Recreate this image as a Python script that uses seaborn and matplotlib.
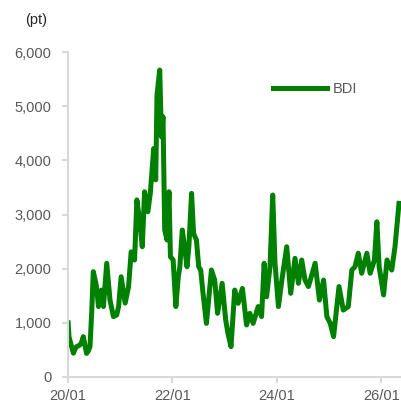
import pandas as pd
import seaborn as sns
import matplotlib.pyplot as plt
import matplotlib.dates as mdates
from matplotlib.ticker import FuncFormatter

# BDI readings (pt)
fechas = ['2020-01-02', '2020-01-08', '2020-01-20', '2020-02-08', '2020-02-20', '2020-03-01', '2020-03-24',
          '2020-04-05', '2020-04-17', '2020-05-10', '2020-05-22', '2020-06-03', '2020-06-15', '2020-06-26',
          '2020-07-19', '2020-08-01', '2020-08-23', '2020-09-05', '2020-09-28', '2020-10-21', '2020-11-14',
          '2020-12-07', '2020-12-20', '2021-01-07', '2021-02-04', '2021-02-28', '2021-03-18', '2021-04-11',
          '2021-04-27', '2021-05-16', '2021-06-04', '2021-06-20', '2021-07-13', '2021-07-30', '2021-08-23',
          '2021-09-06', '2021-09-15', '2021-10-04', '2021-10-16', '2021-10-27', '2021-11-08', '2021-11-24',
          '2021-12-08', '2021-12-18', '2022-01-06', '2022-01-25', '2022-02-11', '2022-02-22', '2022-03-11',
          '2022-03-27', '2022-04-13', '2022-04-26', '2022-05-15', '2022-05-29', '2022-06-18', '2022-07-04',
          '2022-07-18', '2022-08-05', '2022-08-27', '2022-10-01', '2022-10-24', '2022-11-13', '2022-12-15',
          '2023-01-09', '2023-01-25', '2023-02-15', '2023-03-13', '2023-04-06', '2023-05-06', '2023-06-04',
          '2023-06-27', '2023-07-20', '2023-08-24', '2023-09-17', '2023-10-05', '2023-10-22', '2023-11-15',
          '2023-12-04', '2023-12-20', '2024-01-13', '2024-02-06', '2024-03-11', '2024-04-08', '2024-05-08',
          '2024-06-01', '2024-06-24', '2024-07-17', '2024-08-10', '2024-09-26', '2024-10-26', '2024-11-24',
          '2024-12-17', '2025-01-10', '2025-02-02', '2025-03-12', '2025-04-11', '2025-05-16', '2025-06-10',
          '2025-07-02', '2025-07-25', '2025-08-18', '2025-09-23', '2025-10-16', '2025-11-15', '2025-12-02',
          '2025-12-18', '2026-01-18', '2026-02-11', '2026-03-16', '2026-04-08', '2026-05-06']
bdi = [1000, 745, 620, 440, 520, 560, 590,
       640, 745, 435, 480, 560, 1200, 1945,
       1670, 1300, 1605, 1300, 2100, 1420, 1115,
       1145, 1300, 1850, 1365, 1670, 2310, 2160,
       3270, 2900, 2405, 3420, 3050, 3390, 4220,
       3640, 5205, 5667, 4435, 4805, 2714, 2530,
       3420, 2220, 2160, 1300, 1850, 2035, 2714,
       2405, 2035, 2405, 3390, 2650, 2530, 2035,
       1975, 1500, 990, 1975, 1790, 1175, 1730,
       1050, 800, 560, 1605, 1360, 1635, 960,
       1175, 990, 1300, 1115, 2100, 1480, 2035,
       3360, 2100, 1300, 1790, 2405, 1545, 2190,
       1730, 2160, 1790, 1670, 2100, 1420, 1790,
       1115, 990, 745, 1670, 1235, 1300, 1975,
       2035, 2285, 1915, 2285, 1915, 2160, 2866,
       2035, 1515, 2160, 1975, 2405, 3205]

df = pd.DataFrame({'fecha': pd.to_datetime(fechas), 'BDI': bdi})

gris = '#d9d9d9'
texto = '#595959'
plt.rcParams['font.family'] = ['Liberation Sans', 'DejaVu Sans']

fig = plt.figure(figsize=(4.01, 4.08), dpi=100)
ax = fig.add_axes([68 / 401, 31 / 408, 333 / 401, 325 / 408])

sns.lineplot(data=df, x='fecha', y='BDI', color='#008000', linewidth=3.6, label='BDI', ax=ax)

ax.set_ylim(0, 6000)
ax.set_yticks(range(0, 6001, 1000))
ax.yaxis.set_major_formatter(FuncFormatter(lambda v, p: f'{int(v):,}'))
ax.set_xlim(pd.Timestamp('2020-01-01'), pd.Timestamp('2026-05-20'))
ax.set_xticks(pd.to_datetime(['2020-01-01', '2022-01-01', '2024-01-01', '2026-01-01']))
ax.xaxis.set_major_formatter(mdates.DateFormatter('%y/%m'))
ax.set_xlabel('')
ax.set_ylabel('')

for s in ['top', 'right']:
    ax.spines[s].set_visible(False)
for s in ['left', 'bottom']:
    ax.spines[s].set_color(gris)
    ax.spines[s].set_linewidth(1.5)
ax.tick_params(axis='both', colors=gris, labelcolor=texto, labelsize=10.5, length=4, width=1.5)
ax.tick_params(axis='y', pad=8)
ax.tick_params(axis='x', pad=5)

ax.text(-0.13, 1.1, '(pt)', transform=ax.transAxes, fontsize=10.5, color='#262626', ha='left', va='center')

ax.legend(loc='center left', bbox_to_anchor=(0.616, 0.886), frameon=False, fontsize=10.5,
          handlelength=3.7, handletextpad=0.4, borderpad=0, borderaxespad=0, labelcolor=texto)

fig.savefig('out.png', dpi=100)
